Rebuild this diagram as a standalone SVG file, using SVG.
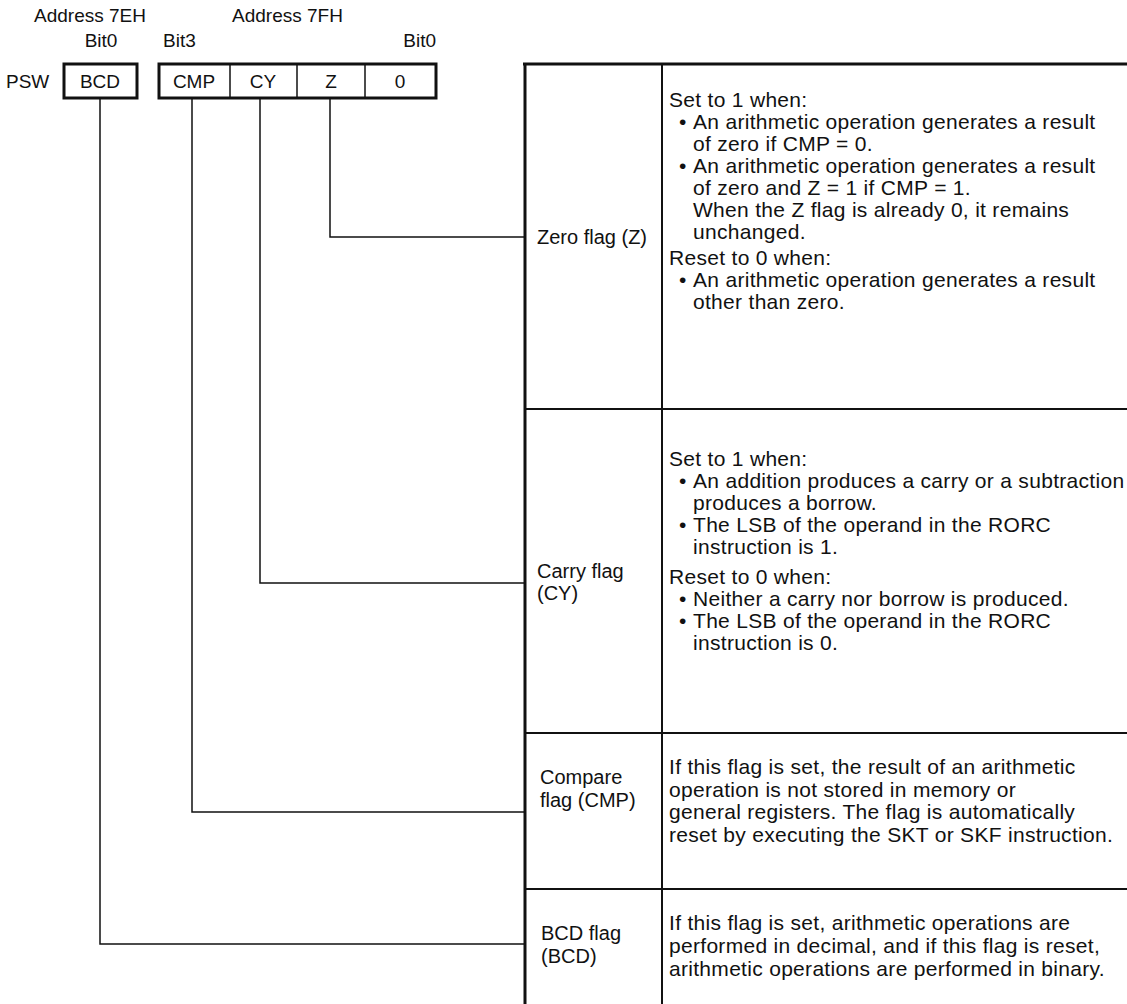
<svg xmlns="http://www.w3.org/2000/svg" width="1127" height="1004" viewBox="0 0 1127 1004">
<style>
text{font-family:"Liberation Sans",Arial,sans-serif;font-size:19px;fill:#111}
.d text{font-size:21px;letter-spacing:0.3px}
text.l{font-size:20px}
.c{text-anchor:middle}
.thick{stroke:#111;stroke-width:3;fill:none}
.mid{stroke:#111;stroke-width:2;fill:none}
.thin{stroke:#111;stroke-width:1.5;fill:none}
</style>
<rect width="1127" height="1004" fill="#fff"/>
<g id="header">
<text x="34" y="22">Address 7EH</text>
<text x="232" y="22">Address 7FH</text>
<text x="101" y="47" class="c">Bit0</text>
<text x="163" y="47">Bit3</text>
<text x="436" y="47" text-anchor="end">Bit0</text>
<text x="6" y="88">PSW</text>
</g>
<g id="reg-7EH">
<rect x="64" y="64" width="73" height="34" class="thick"/>
<text x="100" y="88" class="c">BCD</text>
</g>
<g id="reg-7FH">
<rect x="159" y="64" width="277" height="34" class="thick"/>
<line x1="230" y1="64" x2="230" y2="98" class="thin"/>
<line x1="297" y1="64" x2="297" y2="98" class="thin"/>
<line x1="365" y1="64" x2="365" y2="98" class="thin"/>
<text x="194" y="88" class="c">CMP</text>
<text x="263" y="88" class="c">CY</text>
<text x="331" y="88" class="c">Z</text>
<text x="400" y="88" class="c">0</text>
</g>
<g id="table">
<line x1="523" y1="64" x2="1127" y2="64" class="thick"/>
<line x1="525" y1="64" x2="525" y2="1004" class="thick"/>
<line x1="662" y1="64" x2="662" y2="1004" class="mid"/>
<line x1="525" y1="409" x2="1127" y2="409" class="mid"/>
<line x1="525" y1="733" x2="1127" y2="733" class="mid"/>
<line x1="525" y1="889" x2="1127" y2="889" class="mid"/>
</g>
<g id="row-zero">
<text x="537" y="244" class="l">Zero flag (Z)</text>
<g class="d">
<text x="669" y="107">Set to 1 when:</text>
<text x="679" y="129">•</text><text x="693" y="129">An arithmetic operation generates a result</text>
<text x="693" y="151">of zero if CMP = 0.</text>
<text x="679" y="173">•</text><text x="693" y="173">An arithmetic operation generates a result</text>
<text x="693" y="195">of zero and Z = 1 if CMP = 1.</text>
<text x="693" y="217">When the Z flag is already 0, it remains</text>
<text x="693" y="239">unchanged.</text>
<text x="669" y="265">Reset to 0 when:</text>
<text x="679" y="287">•</text><text x="693" y="287">An arithmetic operation generates a result</text>
<text x="693" y="309">other than zero.</text>
</g>
</g>
<g id="row-carry">
<text x="537" y="578" class="l">Carry flag</text>
<text x="537" y="600" class="l">(CY)</text>
<g class="d">
<text x="669" y="466">Set to 1 when:</text>
<text x="679" y="488">•</text><text x="693" y="488">An addition produces a carry or a subtraction</text>
<text x="693" y="510">produces a borrow.</text>
<text x="679" y="532">•</text><text x="693" y="532">The LSB of the operand in the RORC</text>
<text x="693" y="554">instruction is 1.</text>
<text x="669" y="584">Reset to 0 when:</text>
<text x="679" y="606">•</text><text x="693" y="606">Neither a carry nor borrow is produced.</text>
<text x="679" y="628">•</text><text x="693" y="628">The LSB of the operand in the RORC</text>
<text x="693" y="650">instruction is 0.</text>
</g>
</g>
<g id="row-compare">
<text x="540" y="784" class="l">Compare</text>
<text x="540" y="807" class="l">flag (CMP)</text>
<g class="d">
<text x="669" y="774">If this flag is set, the result of an arithmetic</text>
<text x="669" y="797">operation is not stored in memory or</text>
<text x="669" y="819">general registers. The flag is automatically</text>
<text x="669" y="842">reset by executing the SKT or SKF instruction.</text>
</g>
</g>
<g id="row-bcd">
<text x="541" y="940" class="l">BCD flag</text>
<text x="541" y="963" class="l">(BCD)</text>
<g class="d">
<text x="669" y="930">If this flag is set, arithmetic operations are</text>
<text x="669" y="953">performed in decimal, and if this flag is reset,</text>
<text x="669" y="976">arithmetic operations are performed in binary.</text>
</g>
</g>
<g id="connectors">
<polyline points="330,98 330,237 525,237" class="thin"/>
<polyline points="260,98 260,583 525,583" class="thin"/>
<polyline points="192,98 192,812 525,812" class="thin"/>
<polyline points="100,98 100,944 525,944" class="thin"/>
</g>
</svg>
